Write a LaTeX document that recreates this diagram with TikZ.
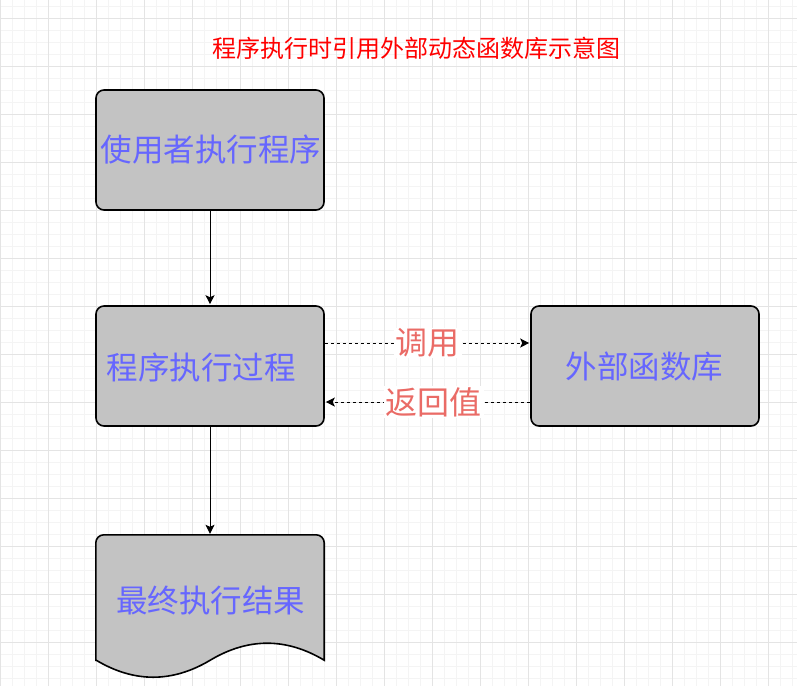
\documentclass[tikz,border=0pt]{standalone}
\usepackage{fontspec}
\setmainfont{Noto Sans CJK SC}
\usetikzlibrary{arrows.meta}
\definecolor{boxgray}{HTML}{C3C3C3}
\definecolor{txtblue}{HTML}{6666FF}
\definecolor{lblred}{HTML}{EA6B66}
\definecolor{titlered}{HTML}{FF0000}
\definecolor{gminor}{HTML}{F4F4F4}
\definecolor{gmajor}{HTML}{E4E4E4}
\begin{document}
\begin{tikzpicture}[x=1pt,y=-1pt,
  gridminor/.style={draw=gminor,line width=0.8pt},
  gridmajor/.style={draw=gmajor,line width=0.9pt},
  procbox/.style={draw=black,line width=1.6pt,fill=boxgray,rounded corners=8pt,
    minimum width=228pt,minimum height=120pt,inner sep=0pt},
  holder/.style={minimum width=228pt,minimum height=125pt,inner sep=0pt},
  boxtext/.style={text=txtblue,inner sep=0pt,font=\fontsize{31.5}{36}\selectfont},
  lbltext/.style={text=lblred,fill=white,inner xsep=2pt,inner ysep=1pt,font=\fontsize{32}{36}\selectfont},
  conn/.style={draw=black,line width=1pt,shorten >=1pt,-{Stealth[length=9pt,width=9pt,inset=2pt]}},
  dconn/.style={conn,dash pattern=on 3pt off 3pt},
  docshape/.style={draw=black,line width=1.6pt,fill=boxgray}
]
\useasboundingbox (0,0) rectangle (797,686);
\fill[white] (0,0) rectangle (797,686);
% grid
\foreach \x in {0,12,...,797} \draw[gridminor] (\x,0) -- (\x,686);
\foreach \y in {6,18,...,686} \draw[gridminor] (0,\y) -- (797,\y);
\foreach \x in {0,48,...,797} \draw[gridmajor] (\x,0) -- (\x,686);
\foreach \y in {18,66,...,686} \draw[gridmajor] (0,\y) -- (797,\y);

% title
\node[text=titlered,inner sep=0pt,font=\fontsize{24}{28}\selectfont] (title) at (416,48) {程序执行时引用外部动态函数库示意图};

% boxes
\node[procbox] (b1) at (210,150) {};
\node[boxtext] (t1) at (211,150) {使用者执行程序};
\node[procbox] (b2) at (210,366) {};
\node[boxtext] (t2) at (201,367) {程序执行过程};
\node[procbox] (b3) at (645,366) {};
\node[boxtext] (t3) at (644.5,367) {外部函数库};

% document shape
\node[holder] (d) at (210,597.5) {};
\draw[docshape] (d.south west) -- ([yshift=-8pt]d.north west)
  arc[start angle=180,end angle=90,radius=8pt] -- ([xshift=-8pt]d.north east)
  arc[start angle=90,end angle=0,radius=8pt] -- (d.south east)
  .. controls +(-38,-22.67) and +(38,-22.67) .. ++(-114,0)
  .. controls +(-38,22.67) and +(38,22.67) .. ++(-114,0) -- cycle;
\node[boxtext] (t4) at (210.5,601) {最终执行结果};

% connectors
\draw[conn] (b1.south) -- (b2.north);
\draw[conn] (b2.south) -- (d.north);
\draw[dconn] ([yshift=23pt]b2.east) -- node[lbltext,midway] (l1) {调用} ([yshift=23pt]b3.west);
\draw[dconn] ([yshift=-36pt]b3.west) -- node[lbltext,pos=0.47] (l2) {返回值} ([yshift=-36pt]b2.east);
\end{tikzpicture}
\end{document}
